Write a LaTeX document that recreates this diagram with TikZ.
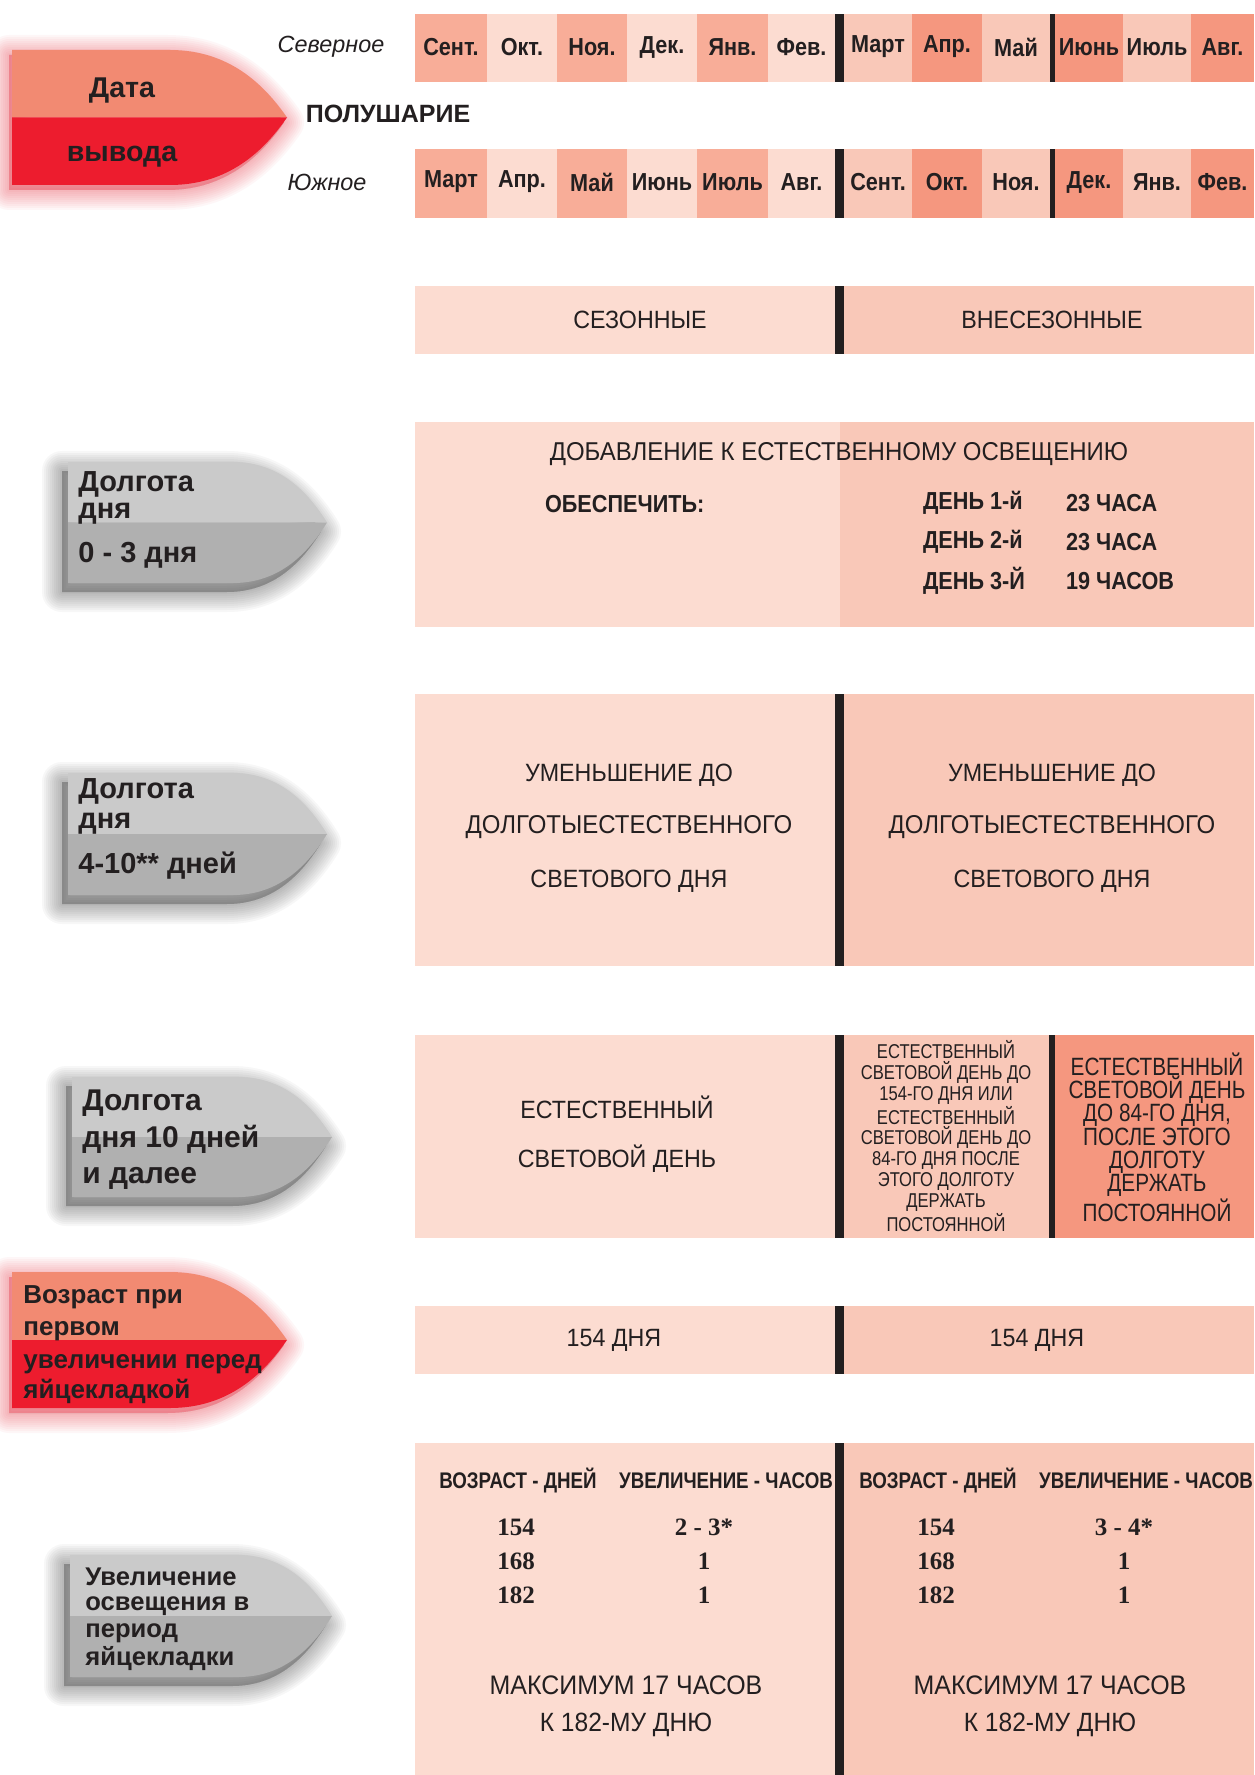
\documentclass[tikz,border=0pt]{standalone}
\usepackage{fontspec}
\setmainfont{Liberation Sans}
\newfontfamily\litefont[FakeStretch=0.93]{Liberation Sans}
\newfontfamily\monthfont[FakeStretch=0.88]{Liberation Sans}
\newfontfamily\narrowfont[FakeStretch=0.83]{Liberation Sans}
\newfontfamily\numfont{Liberation Serif}
\usetikzlibrary{positioning}

\definecolor{cellA}{HTML}{F8AD98}
\definecolor{cellB}{HTML}{FCDCD1}
\definecolor{cellC}{HTML}{F9C8B8}
\definecolor{cellD}{HTML}{F5977F}
\definecolor{redtop}{HTML}{F28A72}
\definecolor{redbot}{HTML}{ED1C2E}
\definecolor{graytop}{HTML}{CACACA}
\definecolor{graybot}{HTML}{B0B0B0}
\definecolor{ink}{HTML}{231F20}

% tab shape: left, top, bottom, bend, tip, upper colour, lower colour, shadow style
\newcommand{\tabshape}[8]{%
	\pgfmathsetmacro{\tabmid}{(#2+#3)/2}
	\pgfmathsetmacro{\tabca}{#4+0.5*(#5-#4)}
	\pgfmathsetmacro{\tabcb}{#5-0.2*(#5-#4)}
	\pgfmathsetmacro{\tabup}{#2+0.5*(\tabmid-#2)}
	\pgfmathsetmacro{\tabdn}{#3-0.5*(#3-\tabmid)}
	\foreach \w in {2,4,...,20}
		\filldraw[#8, opacity=0.035, line width=\w pt, line join=round]
			(#1,#2) -- (#4,#2) .. controls (\tabca,#2) and (\tabcb,\tabup) .. (#5,\tabmid)
			.. controls (\tabcb,\tabdn) and (\tabca,#3) .. (#4,#3) -- (#1,#3) -- cycle;
	\fill[#6] (#1,#2) -- (#4,#2) .. controls (\tabca,#2) and (\tabcb,\tabup) .. (#5,\tabmid) -- (#1,\tabmid) -- cycle;
	\fill[#7] (#1,\tabmid) -- (#5,\tabmid) .. controls (\tabcb,\tabdn) and (\tabca,#3) .. (#4,#3) -- (#1,#3) -- cycle;
}

\begin{document}
\begin{tikzpicture}[x=0.5pt, y=-0.5pt, every node/.style={text=ink},
	month/.style={font=\monthfont\bfseries\fontsize{12.3}{14}\selectfont},
	hemi/.style={font=\itshape\fontsize{11.7}{13}\selectfont},
	lite/.style={font=\litefont\fontsize{12.5}{14}\selectfont},
	narrow/.style={font=\narrowfont\fontsize{10}{10.35}\selectfont, align=center, inner sep=0pt},
	wide/.style={font=\narrowfont\fontsize{12.5}{11.65}\selectfont, align=center, inner sep=0pt},
	boldcap/.style={font=\monthfont\bfseries\fontsize{12.3}{14}\selectfont, anchor=west},
	head/.style={font=\narrowfont\bfseries\fontsize{11.3}{12}\selectfont},
	num/.style={font=\numfont\bfseries\fontsize{12.5}{14}\selectfont},
	tablabel/.style={font=\bfseries\fontsize{14.5}{16}\selectfont, anchor=base west, inner sep=0pt},
	smalllabel/.style={font=\bfseries\fontsize{12.8}{14}\selectfont, anchor=base west, inner sep=0pt},
	redglow/.style={color=redbot, shift={(-3,5)}},
	grayshade/.style={color=black!85, shift={(-6,9)}}]
	\fill[white] (0,0) rectangle (1254,1775);
	\useasboundingbox (0,0) rectangle (1254,1775);

	\foreach \xa/\xb/\col/\nth/\sth in {415/487/cellA/Сент./Март, 487/557/cellB/Окт./Апр., 557/627/cellA/Ноя./Май,
		627/697/cellB/Дек./Июнь, 697/768/cellA/Янв./Июль, 768/835/cellB/Фев./Авг., 844/912/cellC/Март/Сент.,
		912/982/cellD/Апр./Окт., 982/1050/cellC/Май/Ноя., 1055/1123/cellD/Июнь/Дек., 1123/1191/cellC/Июль/Янв.,
		1191/1254/cellD/Авг./Фев.}
	{
		\fill[\col] (\xa,14) rectangle (\xb,82);
		\fill[\col] (\xa,149) rectangle (\xb,218);
		\node[month] (n-\xa) at ({(\xa+\xb)/2},47) {\nth};
		\node[month] (s-\xa) at ({(\xa+\xb)/2},182) {\sth};
	}
	\fill[ink] (835,14) rectangle (844,82);
	\fill[ink] (1050,14) rectangle (1055,82);
	\fill[ink] (835,149) rectangle (844,218);
	\fill[ink] (1050,149) rectangle (1055,218);

	\tabshape{12}{50}{185}{170}{287}{redtop}{redbot}{redglow}
	\node[font=\bfseries\fontsize{14.3}{16}\selectfont, anchor=base] (date) at (122,98) {Дата};
	\node[font=\bfseries\fontsize{14.3}{16}\selectfont, anchor=base] (hatch) at (122,162) {вывода};
	\node[hemi] (north) at (331,47) {Северное};
	\node[font=\bfseries\fontsize{12.5}{14}\selectfont] (hemis) at (388,114) {ПОЛУШАРИЕ};
	\node[hemi] (south) at (327,182) {Южное};

	\fill[cellB] (415,286) rectangle (835,354);
	\fill[cellC] (844,286) rectangle (1254,354);
	\fill[ink] (835,286) rectangle (844,354);
	\node[lite] (season) at (640,320) {СЕЗОННЫЕ};
	\node[lite] (offseason) at (1052,320) {ВНЕСЕЗОННЫЕ};

	\tabshape{68}{462}{583}{233}{327}{graytop}{graybot}{grayshade}
	\node[tablabel] (g1a) at (78,491) {Долгота};
	\node[tablabel] (g1b) at (78,518) {дня};
	\node[tablabel] (g1c) at (78,562) {0 - 3 дня};
	\fill[cellB] (415,422) rectangle (840,627);
	\fill[cellC] (840,422) rectangle (1254,627);
	\node[lite, font=\litefont\fontsize{12.9}{14}\selectfont] (supp) at (839,454) {ДОБАВЛЕНИЕ К ЕСТЕСТВЕННОМУ ОСВЕЩЕНИЮ};
	\node[boldcap] (provide) at (538,504) {ОБЕСПЕЧИТЬ:};
	\node[boldcap] (day1) at (916,503) {ДЕНЬ 1-й};
	\node[boldcap] (hrs1) at (1059,503) {23 ЧАСА};
	\node[boldcap] (day2) at (916,542) {ДЕНЬ 2-й};
	\node[boldcap] (hrs2) at (1059,542) {23 ЧАСА};
	\node[boldcap] (day3) at (916,581) {ДЕНЬ 3-Й};
	\node[boldcap] (hrs3) at (1059,581) {19 ЧАСОВ};

	\tabshape{68}{773}{895}{233}{327}{graytop}{graybot}{grayshade}
	\node[tablabel] (g2a) at (78,798) {Долгота};
	\node[tablabel] (g2b) at (78,828) {дня};
	\node[tablabel] (g2c) at (78,873) {4-10** дней};
	\fill[cellB] (415,694) rectangle (835,966);
	\fill[cellC] (844,694) rectangle (1254,966);
	\fill[ink] (835,694) rectangle (844,966);
	\foreach \cx/\side in {629/l, 1052/r}
	{
		\node[lite] (cut1-\side) at (\cx,775) {УМЕНЬШЕНИЕ ДО};
		\node[lite, font=\litefont\fontsize{12.9}{14}\selectfont] (cut2-\side) at (\cx,827) {ДОЛГОТЫЕСТЕСТВЕННОГО};
		\node[lite] (cut3-\side) at (\cx,881) {СВЕТОВОГО ДНЯ};
	}

	\tabshape{72}{1077}{1197}{238}{332}{graytop}{graybot}{grayshade}
	\node[tablabel, font=\bfseries\fontsize{15}{16}\selectfont] (g3a) at (82,1110) {Долгота};
	\node[tablabel, font=\bfseries\fontsize{15}{16}\selectfont] (g3b) at (82,1147) {дня 10 дней};
	\node[tablabel, font=\bfseries\fontsize{15}{16}\selectfont] (g3c) at (82,1183) {и далее};
	\fill[cellB] (415,1035) rectangle (835,1238);
	\fill[cellC] (844,1035) rectangle (1049,1238);
	\fill[cellD] (1055,1035) rectangle (1254,1238);
	\fill[ink] (835,1035) rectangle (844,1238);
	\fill[ink] (1049,1035) rectangle (1055,1238);
	\node[lite] (nat1) at (617,1107) {ЕСТЕСТВЕННЫЙ};
	\node[lite] (nat2) at (617,1159) {СВЕТОВОЙ ДЕНЬ};
	\node[narrow] (natmid) at (946,1136) {ЕСТЕСТВЕННЫЙ\\СВЕТОВОЙ ДЕНЬ ДО\\154-ГО ДНЯ ИЛИ\\ЕСТЕСТВЕННЫЙ\\СВЕТОВОЙ ДЕНЬ ДО\\84-ГО ДНЯ ПОСЛЕ\\ЭТОГО ДОЛГОТУ\\ДЕРЖАТЬ\\ПОСТОЯННОЙ};
	\node[wide] (natright) at (1157,1137) {ЕСТЕСТВЕННЫЙ\\СВЕТОВОЙ ДЕНЬ\\ДО 84-ГО ДНЯ,\\ПОСЛЕ ЭТОГО\\ДОЛГОТУ\\ДЕРЖАТЬ\\ПОСТОЯННОЙ};

	\tabshape{12}{1272}{1408}{170}{287}{redtop}{redbot}{redglow}
	\node[tablabel, font=\bfseries\fontsize{13}{14}\selectfont] (r2a) at (23,1303) {Возраст при};
	\node[tablabel, font=\bfseries\fontsize{13}{14}\selectfont] (r2b) at (23,1335) {первом};
	\node[tablabel, font=\bfseries\fontsize{13}{14}\selectfont] (r2c) at (23,1368) {увеличении перед};
	\node[tablabel, font=\bfseries\fontsize{13}{14}\selectfont] (r2d) at (23,1398) {яйцекладкой};
	\fill[cellB] (415,1306) rectangle (835,1374);
	\fill[cellC] (844,1306) rectangle (1254,1374);
	\fill[ink] (835,1306) rectangle (844,1374);
	\node[lite] (age1) at (614,1340) {154 ДНЯ};
	\node[lite] (age2) at (1037,1340) {154 ДНЯ};

	\tabshape{70}{1555}{1677}{238}{332}{graytop}{graybot}{grayshade}
	\node[smalllabel] (g4a) at (85,1585) {Увеличение};
	\node[smalllabel] (g4b) at (85,1610) {освещения в};
	\node[smalllabel] (g4c) at (85,1637) {период};
	\node[smalllabel] (g4d) at (85,1665) {яйцекладки};
	\fill[cellB] (415,1443) rectangle (835,1775);
	\fill[cellC] (844,1443) rectangle (1254,1775);
	\fill[ink] (835,1443) rectangle (844,1775);
	\foreach \ax/\bx/\mx/\first/\side in {518/726/626/2 - 3*/l, 938/1146/1050/3 - 4*/r}
	{
		\node[head] (hage-\side) at (\ax,1481) {ВОЗРАСТ - ДНЕЙ};
		\node[head] (hinc-\side) at (\bx,1481) {УВЕЛИЧЕНИЕ - ЧАСОВ};
		\node[num] (a154-\side) at ({\ax-2},1527) {154};
		\node[num] (a168-\side) at ({\ax-2},1561) {168};
		\node[num] (a182-\side) at ({\ax-2},1595) {182};
		\node[num] (i154-\side) at ({\bx-22},1527) {\first};
		\node[num] (i168-\side) at ({\bx-22},1561) {1};
		\node[num] (i182-\side) at ({\bx-22},1595) {1};
		\node[lite, font=\litefont\fontsize{13.4}{14}\selectfont] (max-\side) at (\mx,1685) {МАКСИМУМ 17 ЧАСОВ};
		\node[lite, font=\litefont\fontsize{13.2}{14}\selectfont] (by-\side) at (\mx,1725) {К 182-МУ ДНЮ};
	}
\end{tikzpicture}
\end{document}
